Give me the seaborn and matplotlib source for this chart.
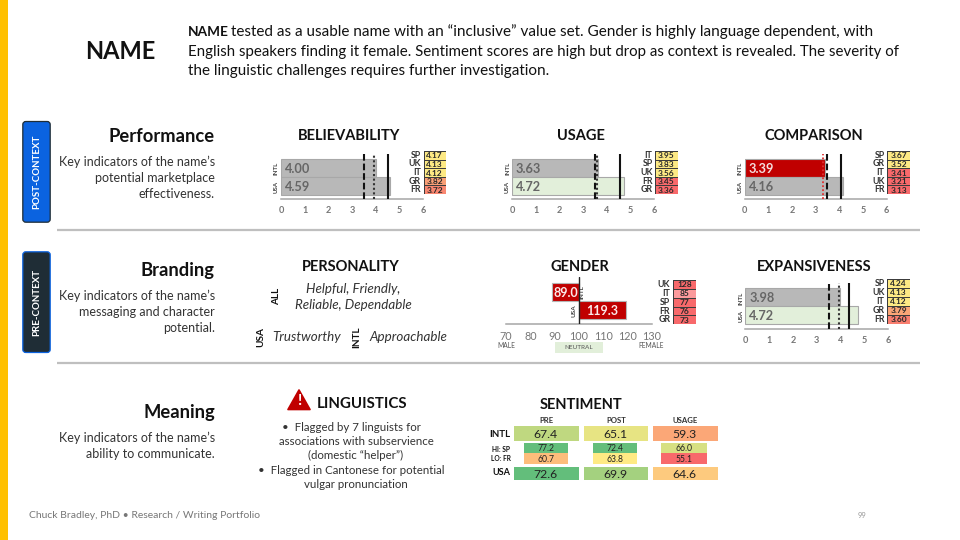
import numpy as np
import pandas as pd
import matplotlib
matplotlib.use("Agg")
import matplotlib.pyplot as plt
from matplotlib.colors import LinearSegmentedColormap
from matplotlib.patches import Polygon, Rectangle, FancyBboxPatch
import seaborn as sns

# ---------- data ----------
groups = ["INTL", "USA"]

believability = [4.00, 4.59]
believ_refs = [3.49, 3.94, 4.51]
believ_langs = ["SP", "UK", "IT", "GR", "FR"]
believ_scores = [4.17, 4.13, 4.12, 3.82, 3.72]

usage = [3.63, 4.72]
usage_refs = [3.48, 3.60, 4.55]
usage_langs = ["IT", "SP", "UK", "FR", "GR"]
usage_scores = [3.95, 3.83, 3.56, 3.45, 3.36]

comparison = [3.39, 4.16]
comparison_refs = [3.49, 3.31, 4.08]
comparison_langs = ["SP", "GR", "IT", "UK", "FR"]
comparison_scores = [3.67, 3.52, 3.41, 3.21, 3.13]

expansiveness = [3.98, 4.72]
expans_refs = [3.51, 3.94, 4.38]
expans_langs = ["SP", "UK", "IT", "GR", "FR"]
expans_scores = [4.24, 4.13, 4.12, 3.79, 3.60]

gender = [89.0, 119.3]
gender_langs = ["UK", "IT", "SP", "FR", "GR"]
gender_scores = [128, 85, 77, 76, 73]
gender_ticks = [70, 80, 90, 100, 110, 120, 130]
gender_neutral = 100

sentiment_cols = ["PRE", "POST", "USAGE"]
sent_intl = [67.4, 65.1, 59.3]
sent_hi_sp = [77.2, 72.4, 66.0]
sent_lo_fr = [60.7, 63.8, 55.1]
sent_usa = [72.6, 69.9, 64.6]

score_ticks = [0, 1, 2, 3, 4, 5, 6]

# ---------- style ----------
sns.set_theme(style="white")
plt.rcParams["font.family"] = ["Lato", "DejaVu Sans"]

GRAY = "#b8b8b8"
GREEN = "#e2efda"
RED = "#c00000"
INK = "#111111"
BODY = "#333333"
AXIS = "#a6a6a6"
TICK = "#777777"
red_yellow = LinearSegmentedColormap.from_list("ry", ["#f8696b", "#fde984"])
red_yellow_green = LinearSegmentedColormap.from_list("ryg", ["#f8696b", "#ffeb84", "#63be7b"])
pink_red = LinearSegmentedColormap.from_list("pr", ["#fb9a9c", "#f8696b"])

fig = plt.figure(figsize=(9.6, 5.4), dpi=100, facecolor="white")


def px_axes(l, t, r, b, z=2):
    ax = fig.add_axes([l / 960, 1 - b / 540, (r - l) / 960, (b - t) / 540], zorder=z)
    ax.patch.set_alpha(0)
    return ax


bg = px_axes(0, 0, 960, 540, z=1)
bg.set_xlim(0, 960)
bg.set_ylim(540, 0)
bg.axis("off")


def T(x, y, s, size=9.5, weight="normal", color=BODY, ha="center", style="normal", rotation=0):
    bg.text(x, y + 0.8, s, fontsize=size, fontweight=weight, color=color, ha=ha, va="center",
            fontstyle=style, rotation=rotation)


# ---------- slide furniture ----------
bg.add_patch(Rectangle((0, 0), 8, 540, color="#ffc000", lw=0))
for y in (229.5, 362.8):
    bg.plot([57, 920], [y, y], color="#bfbfbf", lw=1.6, solid_capstyle="butt")

for top, fill, label in ((121.5, "#0b63e0", "POST-CONTEXT"), (251.8, "#1f2d36", "PRE-CONTEXT")):
    bg.add_patch(FancyBboxPatch((22.8, top), 27.4, 100.7, boxstyle="round,pad=0,rounding_size=3",
                                mutation_aspect=1, fc=fill, ec="#1f2d36" if fill != "#1f2d36" else "#0b63e0", lw=0.9))
    T(37, top + 50, label, size=7.0, weight="bold", color="white", rotation=90)

T(120, 51, "NAME", size=17, weight="bold", color=INK)
T(188, 31, "NAME", size=9.8, weight="bold", color=INK, ha="left")
T(231, 31, "tested as a usable name with an \u201cinclusive\u201d value set. Gender is highly language dependent, with",
  size=11, color=INK, ha="left")
T(188, 51, "English speakers finding it female. Sentiment scores are high but drop as context is revealed. The severity of",
  size=10.85, color=INK, ha="left")
T(188, 70, "the linguistic challenges requires further investigation.", size=11, color=INK, ha="left")

sections = [
    (135.5, "Performance", [(161, "Key indicators of the name\u2019s"), (177, "potential marketplace"), (193, "effectiveness.")]),
    (269.5, "Branding", [(295, "Key indicators of the name\u2019s"), (311, "messaging and character"), (327, "potential.")]),
    (411.5, "Meaning", [(437, "Key indicators of the name\u2019s"), (453, "ability to communicate.")]),
]
for y, head, lines in sections:
    T(215, y, head, size=13.2, weight="bold", color=INK, ha="right")
    for ly, s in lines:
        T(215, ly, s, size=9.0, ha="right")

for x, y, s, fs in ((349, 135, "BELIEVABILITY", 10.55), (581, 135, "USAGE", 10.55), (814, 135, "COMPARISON", 10.55),
                    (351, 266, "PERSONALITY", 10.55), (580, 266, "GENDER", 10.55), (814, 266, "EXPANSIVENESS", 10.55),
                    (362, 403, "LINGUISTICS", 10.8), (581, 404, "SENTIMENT", 10.55)):
    T(x, y, s, size=fs, weight="bold", color=INK)


# ---------- score bars ----------
def score_chart(x0, x6, top, bar_top, bar_bot, axis_y, values, colors, refs, ref_styles):
    ax = px_axes(x0, top, x6, axis_y)
    df = pd.DataFrame({"group": groups, "value": values})
    sns.barplot(data=df, x="value", y="group", hue="group", palette=colors, order=groups,
                width=1.0, saturation=1, legend=False, ax=ax,
                edgecolor="#a8a8a8", linewidth=0.8)
    unit = (bar_bot - bar_top) / 2
    ax.set_xlim(0, 6)
    ax.set_ylim(1.5 + (axis_y - bar_bot) / unit, -0.5 - (bar_top - top) / unit)
    ax.set_xlabel("")
    ax.set_ylabel("")
    ax.set_yticks([])
    ax.set_xticks(score_ticks)
    ax.tick_params(axis="x", direction="in", length=2.5, width=0.7, color="#777777",
                   labelsize=6.6, labelcolor=TICK, pad=5)
    for lab in ax.get_xticklabels():
        lab.set_fontweight("bold")
    for side in ("top", "left", "right"):
        ax.spines[side].set_visible(False)
    ax.spines["bottom"].set_color(AXIS)
    ax.spines["bottom"].set_linewidth(1.1)
    for v, ls in zip(refs, ref_styles):
        ax.axvline(v, color=ls[0], ls=ls[1], lw=ls[2], zorder=5)
    for i, v in enumerate(values):
        on_red = colors[i] == RED
        ax.text(0.17, i, f"{v:.2f}", va="center_baseline", ha="left", fontsize=9.2, fontweight="bold",
                color="#f5dede" if on_red else "#666666", zorder=6)
        T(x0 - 4.5, bar_top + unit * (i + 0.5), groups[i], size=4.4, weight="bold", color="#444444", rotation=90)
    return ax


def score_table(l, t, r, b, langs, scores, vmin, vmax, cmap=red_yellow, heat=None, fmt=".2f"):
    ax = px_axes(l, t, r, b, z=3)
    vals = np.array(scores, dtype=float).reshape(-1, 1)
    data = vals if heat is None else np.array(heat, dtype=float).reshape(-1, 1)
    labels = np.array([format(v, fmt) for v in scores]).reshape(-1, 1)
    sns.heatmap(data, ax=ax, cmap=cmap, vmin=vmin, vmax=vmax, cbar=False, annot=labels, fmt="",
                annot_kws={"fontsize": 6.0, "color": "#2a2a2a", "fontweight": "bold", "va": "center_baseline"},
                linewidths=0.7, linecolor="#3c3c3c", xticklabels=False, yticklabels=langs)
    ax.tick_params(axis="y", length=0, pad=2, labelsize=6.3, labelcolor="#333333", rotation=0)
    for lab in ax.get_yticklabels():
        lab.set_fontweight("bold")
    return ax


STD = [("#111111", (0, (3.2, 1.4)), 1.5), ("#333333", (0, (1, 1.2)), 1.5), ("#111111", "-", 1.5)]
COMP = [("#111111", (0, (3.2, 1.4)), 1.5), ("#e03030", (0, (1, 1.2)), 1.3), ("#111111", "-", 1.5)]

score_chart(281, 423.3, 154, 159, 195, 199, believability, [GRAY, GRAY], believ_refs, STD)
score_table(423.7, 151, 445.7, 194, believ_langs, believ_scores, 3.6, 4.12)

score_chart(512, 654.3, 154, 159, 195, 199, usage, [GRAY, GREEN], usage_refs, STD)
score_table(655.3, 151, 677.7, 194, usage_langs, usage_scores, 3.45, 3.56)

score_chart(744.7, 886.7, 154, 159, 195, 199, comparison, [RED, GRAY], comparison_refs, COMP)
score_table(887.3, 151, 910, 194, comparison_langs, comparison_scores, 3.41, 3.52)

score_chart(745.3, 888, 282.7, 288.3, 323.7, 329, expansiveness, [GRAY, GREEN], expans_refs, STD)
score_table(887.3, 279, 910, 323.5, expans_langs, expans_scores, 3.5, 4.12)

# ---------- gender (deviation from neutral) ----------
gx = px_axes(506, 276.7, 652, 324)
gdf = pd.DataFrame({"group": groups, "dev": [v - gender_neutral for v in gender]})
sns.barplot(data=gdf, x="dev", y="group", hue="group", palette=[RED, RED], order=groups, width=1.0,
            saturation=1, legend=False, ax=gx, edgecolor="#b5b5b5", linewidth=0.8)
gx.set_xlim(gender_ticks[0] - gender_neutral, gender_ticks[-1] - gender_neutral)
gunit = 18.1
gx.set_ylim(1.5 + 5 / gunit, -0.5 - 6 / gunit)
gx.set_xlabel("")
gx.set_ylabel("")
gx.set_yticks([])
gx.set_xticks([t - gender_neutral for t in gender_ticks])
gx.set_xticklabels([str(t) for t in gender_ticks])
gx.tick_params(axis="x", direction="in", length=2.5, width=0.7, color="#777777",
               labelsize=7.8, labelcolor=TICK, pad=5)
for side in ("top", "left", "right"):
    gx.spines[side].set_visible(False)
gx.spines["bottom"].set_color(AXIS)
gx.spines["bottom"].set_linewidth(1.1)
gx.axvline(0, color="#222222", lw=1.0, zorder=5)
for i, v in enumerate(gender):
    gx.text((v - gender_neutral) / 2, i, f"{v:.1f}", ha="center", va="center_baseline", fontsize=9,
            fontweight="bold", color="#fbeaea", zorder=6)
T(582.5, 291, "INTL", size=4.6, weight="bold", color="#444444", rotation=90)
T(574.5, 310, "USA", size=4.6, weight="bold", color="#444444", rotation=90)
bg.add_patch(Rectangle((554.7, 342), 48.3, 11, color="#e2efda", lw=0))
T(578.8, 347, "NEUTRAL", size=4.6, color="#555555")
T(506, 345, "MALE", size=4.8, color="#555555")
T(651.5, 345, "FEMALE", size=4.8, color="#555555")
score_table(673, 280, 696, 324.3, gender_langs, gender_scores, 15, 23, cmap=pink_red,
            heat=[abs(v - gender_neutral) for v in gender_scores], fmt="d")

# ---------- personality ----------
T(353, 288, "Helpful, Friendly,", size=9.6, style="italic")
T(353, 304, "Reliable, Dependable", size=9.6, style="italic")
T(276.5, 296, "ALL", size=7.2, weight="bold", color=INK, rotation=90)
T(261, 336, "USA", size=7.2, weight="bold", color=INK, rotation=90)
T(357, 336, "INTL", size=7.2, weight="bold", color=INK, rotation=90)
T(272, 336, "Trustworthy", size=9.6, style="italic", ha="left")
T(369, 336, "Approachable", size=9.6, style="italic", ha="left")

# ---------- linguistics ----------
bg.add_patch(Polygon([(299, 390), (310, 409.5), (288, 409.5)], closed=True, fc=RED, ec=RED, lw=1.2, joinstyle="round"))
T(299, 400.5, "!", size=11, weight="bold", color="white")
for y, x, s in ((427, 351, "\u2022  Flagged by 7 linguists for"),
                (441, 356, "associations with subservience"),
                (455, 356, "(domestic \u201chelper\u201d)"),
                (470, 351, "\u2022  Flagged in Cantonese for potential"),
                (484, 356, "vulgar pronunciation")):
    T(x, y, s, size=8.3)


# ---------- sentiment ----------
def sent_row(l, t, r, b, values, vmin=55.1, vmax=72.5, size=8.8, gap=2.5):
    ax = px_axes(l, t, r, b)
    sns.heatmap(np.array(values, dtype=float).reshape(1, -1), ax=ax, cmap=red_yellow_green, vmin=vmin, vmax=vmax,
                cbar=False, annot=True, fmt=".1f",
                annot_kws={"fontsize": size, "color": "#222222", "va": "center_baseline"},
                linewidths=gap, linecolor="white", xticklabels=False, yticklabels=False)


bg.add_patch(Rectangle((511, 440.8), 209, 1.8, color="#ecebf5", lw=0))
sent_row(511, 423.3, 719.5, 442.7, sent_intl)
sent_row(511, 463.6, 719.5, 482.4, sent_usa, vmin=59.8, vmax=72.6)
for col, (l, r) in enumerate(((524, 568.3), (592.7, 637.3), (661.3, 707))):
    sub = px_axes(l, 442.7, r, 463.7)
    sns.heatmap(np.array([[sent_hi_sp[col]], [sent_lo_fr[col]]]), ax=sub, cmap=red_yellow_green, vmin=55.1, vmax=72.5,
                cbar=False, annot=True, fmt=".1f",
                annot_kws={"fontsize": 6.2, "color": "#222222", "va": "center_baseline"},
                xticklabels=False, yticklabels=False)
for x, s in zip((546, 616, 685), sentiment_cols):
    T(x, 419.5, s, size=5.6, weight="bold", color="#333333")
T(500, 433.5, "INTL", size=7.0, weight="bold", color=INK)
T(501, 449, "HI: SP", size=4.8, weight="bold", color=INK)
T(501, 458, "LO: FR", size=4.8, weight="bold", color=INK)
T(501, 471.5, "USA", size=6.6, weight="bold", color=INK)

# ---------- footer ----------
T(29, 514.5, "Chuck Bradley, PhD \u2022 Research / Writing Portfolio", size=7.5, color="#777777", ha="left")
T(862, 514.5, "99", size=5.5, color="#999999")

fig.savefig("out.png", dpi=100)
